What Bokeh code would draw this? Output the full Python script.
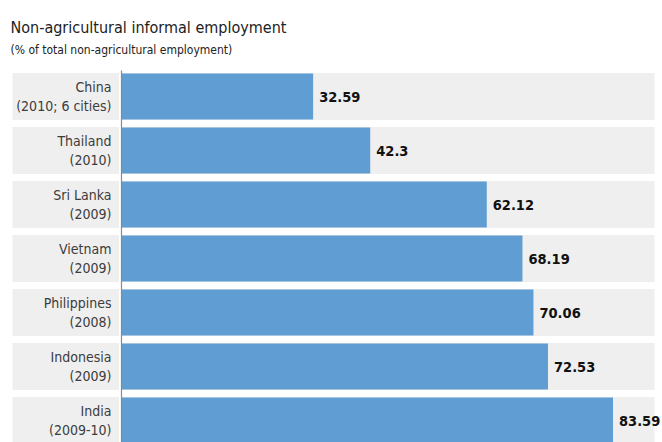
from bokeh.plotting import figure
from bokeh.models import Range1d, Label, ColumnDataSource
from bokeh.core.properties import value
from bokeh.embed import file_html
from bokeh.resources import INLINE

countries = ["China", "Thailand", "Sri Lanka", "Vietnam", "Philippines", "Indonesia", "India"]
years = ["(2010; 6 cities)", "(2010)", "(2009)", "(2009)", "(2008)", "(2009)", "(2009-10)"]
values = [32.59, 42.3, 62.12, 68.19, 70.06, 72.53, 83.59]
value_labels = ["32.59", "42.3", "62.12", "68.19", "70.06", "72.53", "83.59"]

W, H = 662, 442
PX_X = 5.88          # pixels per percentage point
ZERO_PX = 121        # pixel position of 0
ROW_PX = 54          # pixels per row
FIRST_ROW_PX = 96    # pixel centre of first row

x_start = -ZERO_PX / PX_X
x_end = (W - ZERO_PX) / PX_X
y_top = -FIRST_ROW_PX / ROW_PX
y_bottom = (H - FIRST_ROW_PX) / ROW_PX

FONT = "'DejaVu Sans Condensed', Roboto"

p = figure(width=W, height=H, output_backend="svg", toolbar_location=None,
           x_range=Range1d(x_start, x_end), y_range=Range1d(y_bottom, y_top),
           min_border=0, min_border_left=0, min_border_right=0,
           min_border_top=0, min_border_bottom=0)
p.axis.visible = False
p.grid.visible = False
p.outline_line_color = None
p.background_fill_color = "white"
p.border_fill_color = "white"

rows = list(range(len(countries)))
src = ColumnDataSource(dict(
    row=rows,
    val=values,
    lab=[c + "\n" + y for c, y in zip(countries, years)],
    vlab=value_labels,
))

band_left = x_start + 12 / PX_X
band_right = x_end - 8 / PX_X
p.hbar(y="row", left=band_left, right=band_right, height=47 / ROW_PX,
       fill_color="#efefef", line_color=None, source=src)
# white separator between label column and bars
p.hbar(y="row", left=-2.5 / PX_X, right=0, height=47 / ROW_PX,
       fill_color="white", line_color=None, source=src)

p.hbar(y="row", left=0, right="val", height=46 / ROW_PX,
       fill_color="#5f9dd2", line_color=None, source=src)

p.segment(x0=0, y0=y_top + 70 / ROW_PX, x1=0, y1=y_bottom, line_color="#8a8a8a", line_width=1.2)

p.text(x=0, y="row", text="lab", source=src, x_offset=-10,
       text_align="right", text_baseline="middle",
       text_font=value(FONT), text_font_size="14px", text_color="#3c3c3c",
       text_line_height=1.15)

p.text(x="val", y="row", text="vlab", source=src, x_offset=6,
       text_align="left", text_baseline="middle",
       text_font=value(FONT), text_font_size="14.5px", text_font_style="bold",
       text_color="#111111")

p.add_layout(Label(x=10, y=H - 27, x_units="screen", y_units="screen",
                   text="Non-agricultural informal employment",
                   text_font=FONT, text_font_size="16px", text_color="#222222",
                   text_baseline="alphabetic"))
p.add_layout(Label(x=10, y=H - 49, x_units="screen", y_units="screen",
                   text="(% of total non-agricultural employment)",
                   text_font=FONT, text_font_size="12px", text_color="#222222",
                   text_baseline="alphabetic"))

open("out.html", "w").write(file_html(p, INLINE))
